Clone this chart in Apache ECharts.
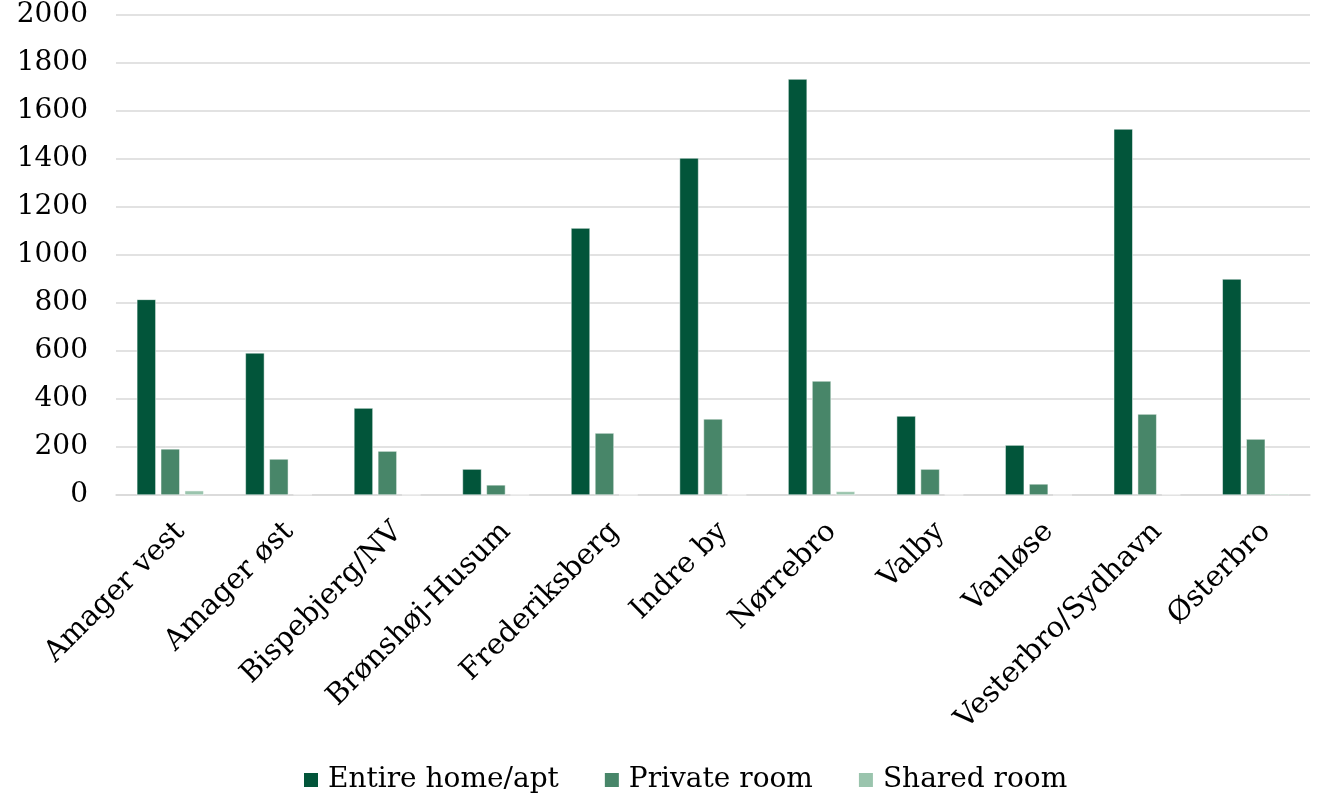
<!DOCTYPE html>
<html><head><meta charset="utf-8">
<script src="https://cdn.jsdelivr.net/npm/echarts@6/dist/echarts.min.js"></script>
<style>html,body{margin:0;padding:0;background:#fff}#c{width:1323px;height:795px}</style>
</head><body><div id="c"></div>
<script>
const categories = ["Amager vest","Amager øst","Bispebjerg/NV","Brønshøj-Husum","Frederiksberg","Indre by","Nørrebro","Valby","Vanløse","Vesterbro/Sydhavn","Østerbro"];
const entireHome = [815, 592, 362, 108, 1112, 1404, 1733, 329, 208, 1525, 900];
const privateRoom = [192, 150, 183, 42, 258, 317, 475, 108, 46, 337, 233];
const sharedRoom = [18, 2, 1, 1, 1, 1, 15, 1, 0, 2, 5];
const seriesNames = ["Entire home/apt","Private room","Shared room"];
const font = "'DejaVu Serif', 'Liberation Serif', serif";
const chart = echarts.init(document.getElementById('c'));
const mk = (name, data, color) => ({
  name, type: 'bar', data, barWidth: 19, barGap: '26%',
  itemStyle: {color, borderColor: '#fff', borderWidth: 0.5}
});
chart.setOption({
  animation: false,
  textStyle: {fontFamily: font},
  grid: {left: 116, right: 13, top: 15, bottom: 300},
  legend: {
    top: 761, left: 297, itemWidth: 16, itemHeight: 16, itemGap: 44,
    icon: 'rect',
    textStyle: {fontFamily: font, fontSize: 28, color: '#000', padding: [0, 0, 0, 4]},
    data: seriesNames
  },
  xAxis: {
    type: 'category', data: categories,
    axisLine: {lineStyle: {color: '#d9d9d9', width: 1.5}},
    axisTick: {show: false},
    axisLabel: {rotate: 45, interval: 0, fontFamily: font, fontSize: 29, color: '#000', margin: 22, verticalAlign: 'top'}
  },
  yAxis: {
    type: 'value', min: 0, max: 2000, interval: 200,
    axisLine: {show: false}, axisTick: {show: false},
    splitLine: {lineStyle: {color: '#d9d9d9', width: 1.5}},
    axisLabel: {fontFamily: font, fontSize: 28, color: '#000', margin: 28, formatter: v => String(v)}
  },
  series: [
    mk(seriesNames[0], entireHome, '#02553A'),
    mk(seriesNames[1], privateRoom, '#488669'),
    mk(seriesNames[2], sharedRoom, '#9AC4AD')
  ]
});
</script></body></html>
